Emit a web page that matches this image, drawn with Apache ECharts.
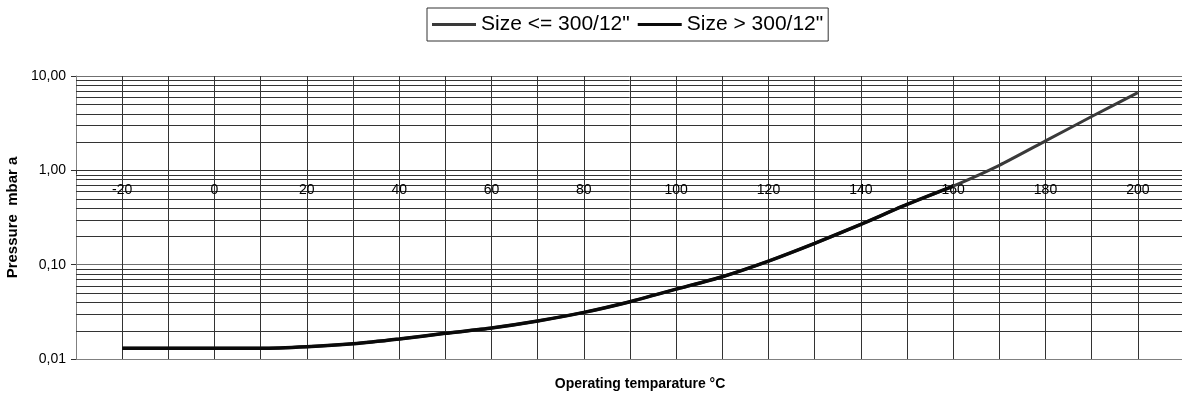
<!DOCTYPE html>
<html>
<head>
<meta charset="utf-8">
<script src="https://cdn.jsdelivr.net/npm/echarts@6/dist/echarts.min.js"></script>
<style>
html,body{margin:0;padding:0;background:#fff;}
#chart{width:1182px;height:394px;}
</style>
</head>
<body>
<div id="chart"></div>
<script>
// Temperatures (°C)
const temps = [-20,-10,0,10,20,30,40,50,60,70,80,90,100,110,120,130,140,150,160,170,180,190,200];
// Pressure (mbar a), size <= 300/12"
const pressureSmall = [0.013,0.013,0.013,0.013,0.0135,0.0145,0.0163,0.0187,0.0213,0.0253,0.0312,0.0405,0.055,0.0745,0.109,0.168,0.267,0.435,0.68,1.13,2.05,3.72,6.67];
// Pressure (mbar a), size > 300/12"
const tempsLarge = [-20,-10,0,10,20,30,40,50,60,70,80,90,100,110,120,130,140,150,160];
const pressureLarge = [0.013,0.013,0.013,0.013,0.0135,0.0145,0.0163,0.0187,0.0213,0.0253,0.0312,0.0405,0.055,0.0745,0.109,0.168,0.267,0.435,0.68];
// Minor log grid values
const minorGrid = [0.02,0.03,0.04,0.05,0.06,0.07,0.08,0.09,0.2,0.3,0.4,0.5,0.6,0.7,0.8,0.9,2,3,4,5,6,7,8,9];
const seriesNames = ['Size <= 300/12"', 'Size > 300/12"'];

const chart = echarts.init(document.getElementById('chart'));
const font = 'Liberation Sans, Arial, sans-serif';
const gridColor = '#333333';

chart.setOption({
  animation: false,
  textStyle: {fontFamily: font, color: '#000'},
  legend: {
    left: 427, top: 8,
    padding: [6, 5, 6, 5],
    itemGap: 8,
    itemWidth: 44, itemHeight: 3,
    borderColor: '#333', borderWidth: 1,
    textStyle: {fontSize: 21, color: '#000', fontFamily: font},
    data: [
      {name: seriesNames[0], icon: 'rect', itemStyle: {color: '#3a3a3a'}},
      {name: seriesNames[1], icon: 'rect', itemStyle: {color: '#0a0a0a'}}
    ]
  },
  grid: {left: 76, top: 76, width: 1108, height: 283, containLabel: false, outerBoundsMode: 'none'},
  xAxis: [{
    type: 'value', min: -30, max: 210, interval: 10, position: 'bottom',
    axisLine: {show: true, onZero: false, lineStyle: {color: '#808080', width: 1}},
    axisTick: {show: false},
    axisLabel: {show: false},
    splitLine: {show: true, lineStyle: {color: gridColor, width: 1}},
    name: 'Operating temparature °C', nameLocation: 'middle', nameGap: 18,
    nameTextStyle: {fontSize: 14, fontWeight: 'bold', color: '#000', fontFamily: font, verticalAlign: 'top', padding: [0, 0, 0, 20]}
  }, {
    type: 'value', min: -30, max: 210, interval: 10, position: 'bottom', offset: -189, z: 2,
    axisLine: {show: true, onZero: false, lineStyle: {color: '#303030', width: 1}},
    axisTick: {show: true, length: 4, inside: false, lineStyle: {color: '#303030'}},
    axisLabel: {
      show: true, fontSize: 14, color: '#000', margin: 13, fontFamily: font,
      formatter: v => (v % 20 === 0 && v >= -20 && v <= 200) ? String(v) : ''
    },
    splitLine: {show: false}
  }],
  yAxis: {
    type: 'log', logBase: 10, min: 0.01, max: 10,
    axisLine: {show: true, onZero: false, lineStyle: {color: '#808080', width: 1}},
    axisTick: {show: true, length: 5, lineStyle: {color: '#303030'}},
    axisLabel: {
      fontSize: 14, color: '#000', margin: 10, fontFamily: font,
      formatter: v => Number(v).toFixed(2).replace('.', ',')
    },
    splitLine: {show: true, lineStyle: {color: '#707070', width: 1}},
    name: 'Pressure  mbar a', nameLocation: 'middle', nameGap: 51, nameRotate: 90,
    nameTextStyle: {fontSize: 15, fontWeight: 'bold', color: '#000', fontFamily: font}
  },
  series: [{
    type: 'custom', z: 1, silent: true, xAxisIndex: 0,
    data: minorGrid.map(v => [v]),
    renderItem: function (params, api) {
      const v = api.value(0);
      const p1 = api.coord([-30, v]);
      const p2 = api.coord([210, v]);
      return {type: 'line', shape: {x1: p1[0], y1: Math.round(p1[1]) + 0.5, x2: p2[0], y2: Math.round(p2[1]) + 0.5},
        style: {stroke: gridColor, lineWidth: 1}};
    },
    encode: {y: 0}
  }, {
    name: seriesNames[0], type: 'line', xAxisIndex: 0, z: 3,
    data: temps.map((t, i) => [t, pressureSmall[i]]),
    symbol: 'none', smooth: 0.2,
    lineStyle: {color: '#3a3a3a', width: 3},
    itemStyle: {color: '#3a3a3a'}
  }, {
    name: seriesNames[1], type: 'line', xAxisIndex: 0, z: 4,
    data: tempsLarge.map((t, i) => [t, pressureLarge[i]]),
    symbol: 'none', smooth: 0.2,
    lineStyle: {color: '#0a0a0a', width: 3.5},
    itemStyle: {color: '#0a0a0a'}
  }]
});
</script>
</body>
</html>
